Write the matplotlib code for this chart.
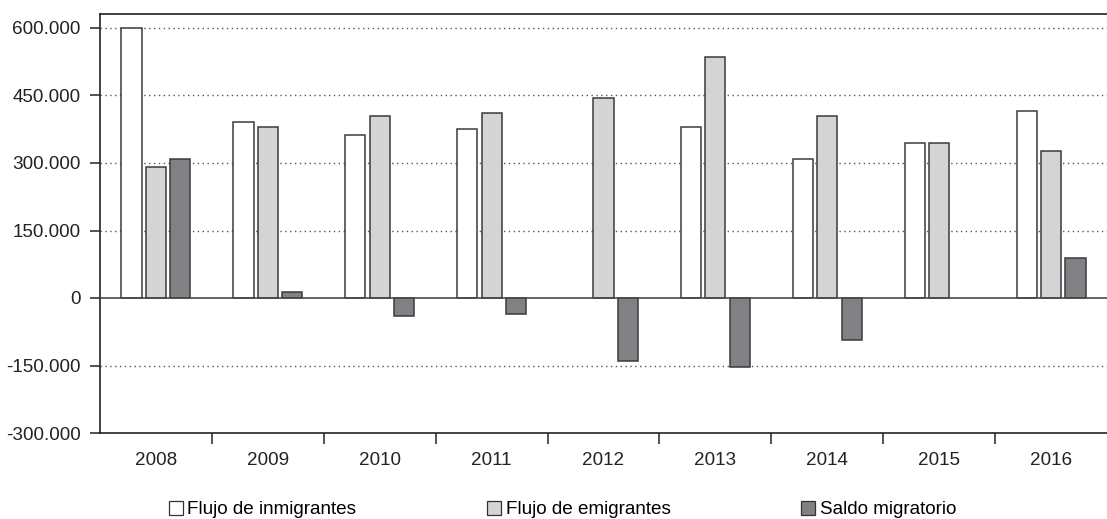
import numpy as np
import matplotlib
matplotlib.use("Agg")
import matplotlib.pyplot as plt
from matplotlib.patches import Patch
from matplotlib.ticker import FuncFormatter, FixedLocator

plt.rcParams['font.family'] = ['Liberation Sans', 'DejaVu Sans']

years = ['2008', '2009', '2010', '2011', '2012', '2013', '2014', '2015', '2016']
inmigrantes = [599000, 392000, 362500, 375000, np.nan, 380500, 309000, 345000, 416000]
emigrantes = [292000, 380500, 405000, 410000, 445500, 534500, 404000, 345000, 327000]
saldo = [309500, 12700, -40000, -35600, -141000, -153500, -94000, np.nan, 89700]
series_names = ['Flujo de inmigrantes', 'Flujo de emigrantes', 'Saldo migratorio']
y_ticks = [-300000, -150000, 0, 150000, 300000, 450000, 600000]

colors = ['#ffffff', '#d3d4d6', '#808184']
edge = '#3a3a3a'
fs = 13.6

fig = plt.figure(figsize=(11.07, 5.19), dpi=100)
ax = fig.add_axes([100 / 1107, 86 / 519, 1007 / 1107, 418.5 / 519])

x = np.arange(len(years))
width = 0.18
offsets = [-0.218, 0.0, 0.218]
for vals, off, col in zip([inmigrantes, emigrantes, saldo], offsets, colors):
    ax.bar(x + off, vals, width, color=col, edgecolor=edge, linewidth=1.1, zorder=3)

ax.set_xlim(-0.5, len(years) - 0.5)
ax.set_ylim(-300000, 630000)

# grid (dotted) except zero, which is a solid line
for v in y_ticks:
    if v == 0:
        ax.axhline(0, color='#4a4a4a', linewidth=1.2, zorder=4)
    elif v != -300000:
        ax.axhline(v, color='#555555', linewidth=1.0, linestyle=(0, (1, 2.5)), zorder=1)

ax.yaxis.set_major_locator(FixedLocator(y_ticks))
ax.yaxis.set_major_formatter(FuncFormatter(lambda v, p: f"{int(v):,}".replace(',', '.')))
ax.tick_params(axis='y', direction='out', length=7, width=1.1, pad=7, labelsize=fs, colors='#222222')

# category boundaries as major ticks, labels on centres
ax.xaxis.set_major_locator(FixedLocator(np.arange(0.5, len(years) - 0.5, 1)))
ax.xaxis.set_major_formatter(FuncFormatter(lambda v, p: ''))
ax.xaxis.set_minor_locator(FixedLocator(x))
ax.set_xticklabels(years, minor=True)
ax.tick_params(axis='x', which='major', direction='out', length=8, width=1.1, color='#222222')
ax.tick_params(axis='x', which='minor', length=0, pad=14, labelsize=fs, labelcolor='#222222')

for s in ['left', 'top', 'bottom']:
    ax.spines[s].set_linewidth(1.2)
    ax.spines[s].set_color('#222222')
ax.spines['right'].set_visible(False)

handles = [Patch(facecolor=c, edgecolor='#333333', linewidth=0.9) for c in colors]
fig.legend(handles, series_names, loc='center', bbox_to_anchor=(0.508, 0.018),
           ncol=3, frameon=False, fontsize=fs, handlelength=0.75, handleheight=0.75,
           handletextpad=0.25, columnspacing=6.9, borderaxespad=0)

fig.savefig('out.png', dpi=100)
